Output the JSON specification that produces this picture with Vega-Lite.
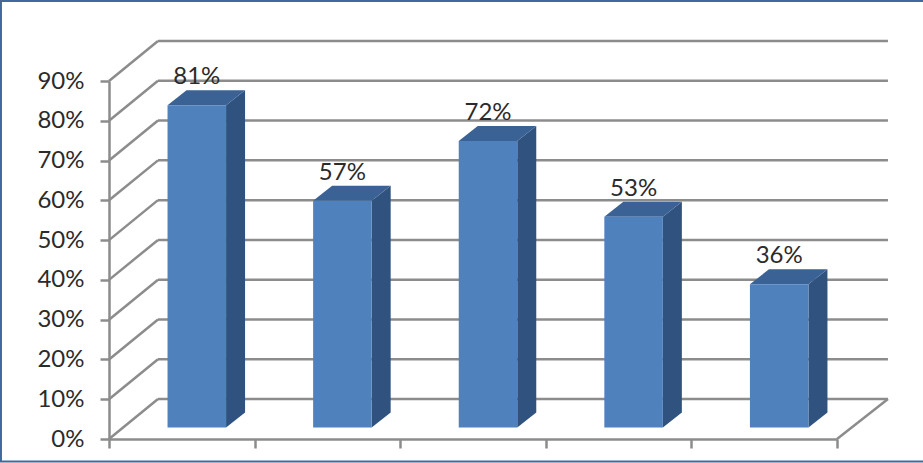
{
"$schema":"https://vega.github.io/schema/vega-lite/v6.json",
"width":728,"height":358,
"autosize":{"type":"none"},
"padding":{"left":109,"top":81,"right":86,"bottom":24},
"background":"#ffffff",
"config":{"view":{"stroke":null},"text":{"font":"Lato"},
 "axis":{"grid":false,"title":null,"tickSize":9,"tickWidth":2.5,"tickColor":"#8c8c8c","domainColor":"#8c8c8c","domainWidth":2.5,"labelOverlap":false,"labelBound":false,"labelFlush":false},
 "axisX":{"labels":false},
 "axisY":{"labelFont":"Lato","labelFontSize":24,"labelColor":"#2b2b2b","labelPadding":16}},
"datasets":{
"bars":[{"item":"A","pos":0,"value":0.81},{"item":"B","pos":1,"value":0.57},{"item":"C","pos":2,"value":0.72},{"item":"D","pos":3,"value":0.53},{"item":"E","pos":4,"value":0.36}],
"grid":[{"tick":0},{"tick":0.1},{"tick":0.2},{"tick":0.3},{"tick":0.4},{"tick":0.5},{"tick":0.6},{"tick":0.7},{"tick":0.8},{"tick":0.9}]
},
"layer":[
{"data":{"values":[{"frame":1}]},"mark":{"type":"rect","fill":null,"stroke":"#41699b","strokeWidth":2},
 "encoding":{
 "x":{"datum":-0.742,"type":"quantitative","scale":{"domain":[0,5],"nice":false,"zero":false},"axis":{"values":[0,1,2,3,4,5]}},
 "x2":{"datum":5.65},
 "y":{"datum":1.101,"type":"quantitative","scale":{"domain":[0,0.9],"nice":false,"zero":false},"axis":{"values":[0,0.1,0.2,0.3,0.4,0.5,0.6,0.7,0.8,0.9],"format":".0%"}},
 "y2":{"datum":-0.0566}}},
{"data":{"name":"grid"},"transform":[{"calculate":"datum.tick+0.1005","as":"top"}],
 "mark":{"type":"rule","stroke":"#8c8c8c","strokeWidth":2.5},
 "encoding":{
 "x":{"datum":0.3365,"type":"quantitative","scale":{"domain":[0,5],"nice":false,"zero":false},"axis":{"values":[0,1,2,3,4,5]}},
 "x2":{"datum":5.35},
 "y":{"field":"top","type":"quantitative","scale":{"domain":[0,0.9],"nice":false,"zero":false},"axis":{"values":[0,0.1,0.2,0.3,0.4,0.5,0.6,0.7,0.8,0.9],"format":".0%"}}}},
{"data":{"name":"grid"},"transform":[{"calculate":"datum.tick+0.1005","as":"top"}],
 "mark":{"type":"rule","stroke":"#8c8c8c","strokeWidth":2.5},
 "encoding":{
 "x":{"datum":0,"type":"quantitative","scale":{"domain":[0,5],"nice":false,"zero":false},"axis":{"values":[0,1,2,3,4,5]}},
 "x2":{"datum":0.3365},
 "y":{"field":"tick","type":"quantitative","scale":{"domain":[0,0.9],"nice":false,"zero":false},"axis":{"values":[0,0.1,0.2,0.3,0.4,0.5,0.6,0.7,0.8,0.9],"format":".0%"}},
 "y2":{"field":"top"}}},
{"data":{"values":[{"floor":0}]},
 "mark":{"type":"rule","stroke":"#8c8c8c","strokeWidth":2.5},
 "encoding":{
 "x":{"datum":5,"type":"quantitative","scale":{"domain":[0,5],"nice":false,"zero":false},"axis":{"values":[0,1,2,3,4,5]}},
 "x2":{"datum":5.35},
 "y":{"datum":0,"type":"quantitative","scale":{"domain":[0,0.9],"nice":false,"zero":false},"axis":{"values":[0,0.1,0.2,0.3,0.4,0.5,0.6,0.7,0.8,0.9],"format":".0%"}},
 "y2":{"datum":0.1005}}},
{"data":{"name":"bars"},
 "transform":[{"calculate":"0","as":"near"},{"calculate":"1","as":"far"},{"fold":["near","far"],"as":["edge","depth"]},
  {"calculate":"datum.pos+0.804+datum.depth*0.1305","as":"sx"},
  {"calculate":"datum.value+0.029+datum.depth*0.0377","as":"sy"},
  {"calculate":"0.029+datum.depth*0.0377","as":"sy2"}],
 "mark":{"type":"area","fill":"#30527f","orient":"vertical"},
 "encoding":{
 "detail":{"field":"item"},
 "x":{"field":"sx","type":"quantitative","scale":{"domain":[0,5],"nice":false,"zero":false},"axis":{"values":[0,1,2,3,4,5]}},
 "y":{"field":"sy","type":"quantitative","scale":{"domain":[0,0.9],"nice":false,"zero":false},"axis":{"values":[0,0.1,0.2,0.3,0.4,0.5,0.6,0.7,0.8,0.9],"format":".0%"}},
 "y2":{"field":"sy2"}}},
{"data":{"name":"bars"},
 "transform":[{"calculate":"0","as":"near"},{"calculate":"1","as":"far"},{"fold":["near","far"],"as":["edge","depth"]},
  {"calculate":"datum.pos+0.402+datum.depth*0.1305","as":"tx"},
  {"calculate":"datum.pos+0.804+datum.depth*0.1305","as":"tx2"},
  {"calculate":"datum.value+0.029+datum.depth*0.0377","as":"ty"}],
 "mark":{"type":"area","fill":"#3a6295","orient":"horizontal"},
 "encoding":{
 "detail":{"field":"item"},
 "x":{"field":"tx","type":"quantitative","scale":{"domain":[0,5],"nice":false,"zero":false},"axis":{"values":[0,1,2,3,4,5]}},
 "x2":{"field":"tx2"},
 "y":{"field":"ty","type":"quantitative","scale":{"domain":[0,0.9],"nice":false,"zero":false},"axis":{"values":[0,0.1,0.2,0.3,0.4,0.5,0.6,0.7,0.8,0.9],"format":".0%"}}}},
{"data":{"name":"bars"},
 "transform":[{"calculate":"datum.pos+0.402","as":"fx"},{"calculate":"datum.pos+0.804","as":"fx2"},{"calculate":"datum.value+0.029","as":"fy"},{"calculate":"0.029","as":"fy2"}],
 "mark":{"type":"rect","fill":"#4f81bd"},
 "encoding":{
 "x":{"field":"fx","type":"quantitative","scale":{"domain":[0,5],"nice":false,"zero":false},"axis":{"values":[0,1,2,3,4,5]}},
 "x2":{"field":"fx2"},
 "y":{"field":"fy","type":"quantitative","scale":{"domain":[0,0.9],"nice":false,"zero":false},"axis":{"values":[0,0.1,0.2,0.3,0.4,0.5,0.6,0.7,0.8,0.9],"format":".0%"}},
 "y2":{"field":"fy2"}}},
{"data":{"name":"bars"},
 "transform":[{"calculate":"datum.pos+0.603","as":"fx"},{"calculate":"datum.value+0.029","as":"fy"}],
 "mark":{"type":"text","font":"Lato","fontSize":24,"color":"#2b2b2b","baseline":"middle","align":"center","dy":-28},
 "encoding":{
 "x":{"field":"fx","type":"quantitative","scale":{"domain":[0,5],"nice":false,"zero":false},"axis":{"values":[0,1,2,3,4,5]}},
 "y":{"field":"fy","type":"quantitative","scale":{"domain":[0,0.9],"nice":false,"zero":false},"axis":{"values":[0,0.1,0.2,0.3,0.4,0.5,0.6,0.7,0.8,0.9],"format":".0%"}},
 "text":{"field":"value","type":"quantitative","format":".0%"}}}
]
}
